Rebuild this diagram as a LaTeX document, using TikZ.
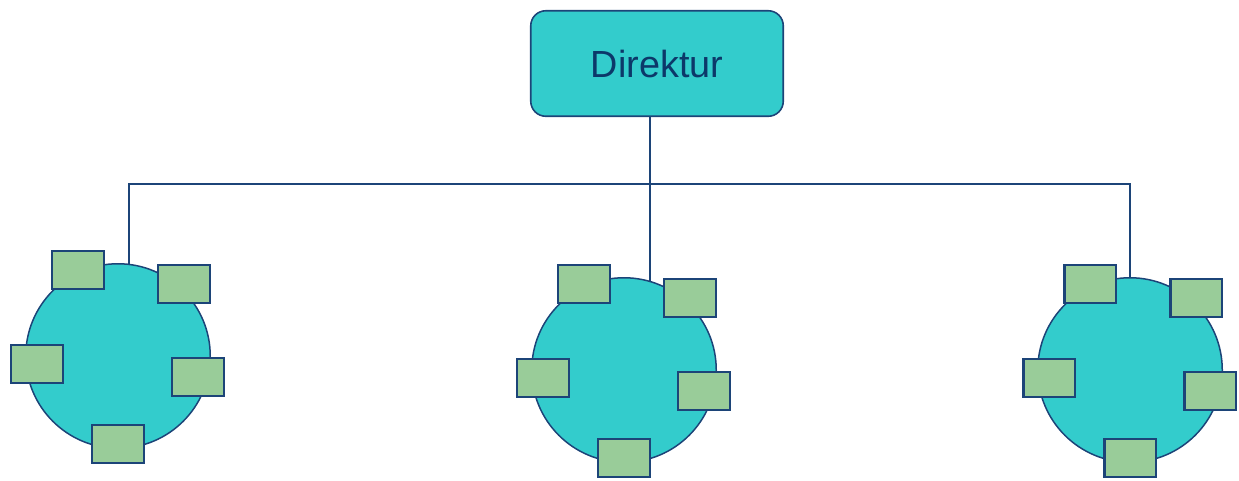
\documentclass[tikz,border=0pt]{standalone}
\usepackage{fontspec}
\setmainfont{Liberation Sans}
\usetikzlibrary{calc, positioning}

\definecolor{teal}{RGB}{51,204,204}
\definecolor{sage}{RGB}{153,204,153}
\definecolor{navy}{RGB}{28,68,120}
\definecolor{ink}{RGB}{12,56,105}

\tikzset{
    head/.style={draw=navy, line width=0.9pt, fill=teal, rounded corners=0.3cm,
        minimum width=5.05cm, minimum height=2.11cm, text=ink,
        font=\fontsize{21.5}{24}\selectfont},
    unit/.style={circle, draw=navy, line width=0.85pt, fill=teal,
        minimum size=3.69cm, inner sep=0pt},
    seat/.style={rectangle, draw=navy, line width=1.4pt, fill=sage,
        minimum width=1.03cm, minimum height=0.76cm, inner sep=0pt},
    link/.style={draw=navy, line width=1.1pt}
}

\begin{document}
\begin{tikzpicture}
    \useasboundingbox (0,0) rectangle (24.78,-9.6);
    \draw (13.14,-1.27) node[head] (dir) {Direktur};
    \draw (2.36,-7.12) node[unit] (u1) {};
    \draw (12.48,-7.40) node[unit] (u2) {};
    \draw (22.60,-7.40) node[unit] (u3) {};
    % five members around each unit
    \foreach \u in {u1,u2,u3}
        \foreach \n/\dx/\dy in {a/-0.80/1.72, b/1.32/1.44, c/-1.62/-0.16, d/1.60/-0.42, e/0/-1.76}
            \node[seat] (\u\n) at ($(\u)+(\dx,\dy)$) {};
    \coordinate (bus) at (13.0,-3.68);
    \path[link]
    (dir.south -| u2.74) -- (u2.74)
    (u1.83) |- (bus) -| (u3.north);
\end{tikzpicture}
\end{document}
